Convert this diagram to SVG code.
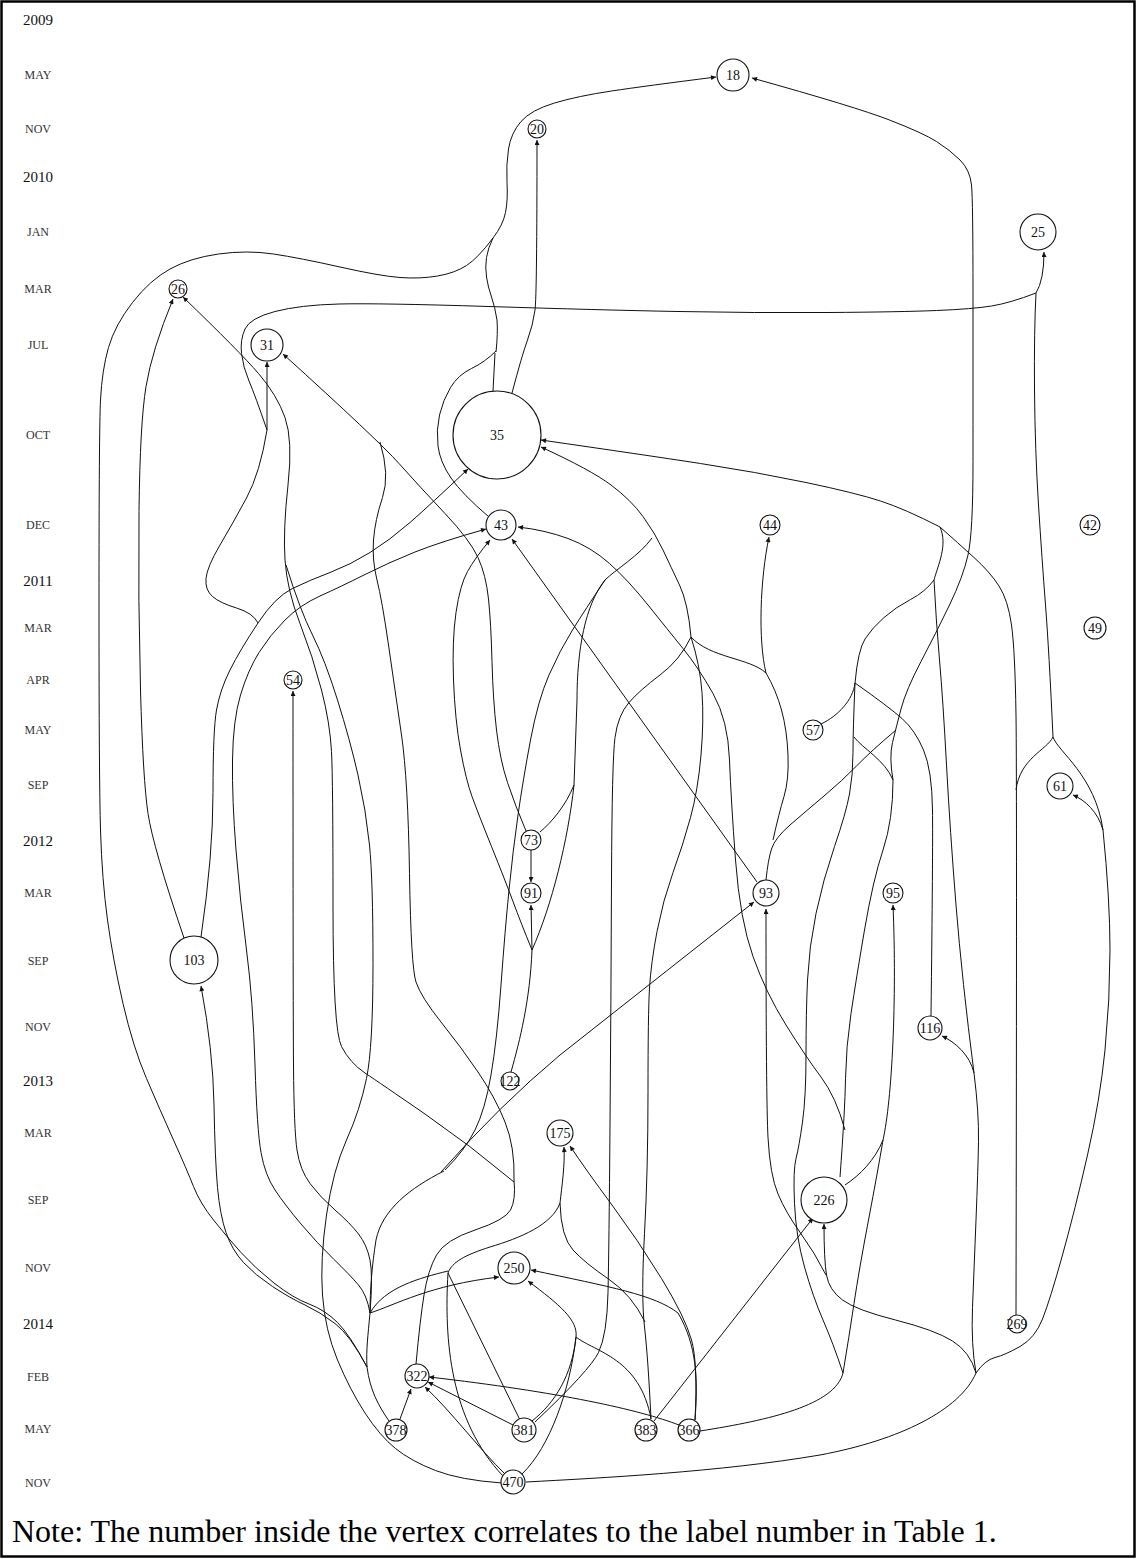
<svg xmlns="http://www.w3.org/2000/svg" width="1136" height="1559" viewBox="0 0 1136 1559">
<style>
.e{fill:none;stroke:#111;stroke-width:1}
.a{marker-end:url(#ah)}
.n circle{fill:#fff;stroke:#111;stroke-width:1.1}
.n text{font-family:"Liberation Serif",serif;font-size:14px;text-anchor:middle;fill:#111}
.yr{font-family:"Liberation Serif",serif;font-size:15px;text-anchor:middle;fill:#111}
.mo{font-family:"Liberation Serif",serif;font-size:12px;text-anchor:middle;fill:#333}
</style>
<defs>
<marker id="ah" viewBox="0 0 10 10" refX="10" refY="5" markerWidth="7" markerHeight="5" markerUnits="userSpaceOnUse" orient="auto"><path d="M0,0 L10,5 L0,10 z" fill="#111"/></marker>
</defs>
<rect x="1.5" y="1.5" width="1133" height="1555" fill="#fff" stroke="#000" stroke-width="2.5"/>
<g id="axis">
<text class="yr" x="38" y="25">2009</text>
<text class="mo" x="38" y="79">MAY</text>
<text class="mo" x="38" y="133">NOV</text>
<text class="yr" x="38" y="182">2010</text>
<text class="mo" x="38" y="236">JAN</text>
<text class="mo" x="38" y="293">MAR</text>
<text class="mo" x="38" y="349">JUL</text>
<text class="mo" x="38" y="439">OCT</text>
<text class="mo" x="38" y="529">DEC</text>
<text class="yr" x="38" y="586">2011</text>
<text class="mo" x="38" y="632">MAR</text>
<text class="mo" x="38" y="684">APR</text>
<text class="mo" x="38" y="734">MAY</text>
<text class="mo" x="38" y="789">SEP</text>
<text class="yr" x="38" y="846">2012</text>
<text class="mo" x="38" y="897">MAR</text>
<text class="mo" x="38" y="965">SEP</text>
<text class="mo" x="38" y="1031">NOV</text>
<text class="yr" x="38" y="1086">2013</text>
<text class="mo" x="38" y="1137">MAR</text>
<text class="mo" x="38" y="1204">SEP</text>
<text class="mo" x="38" y="1272">NOV</text>
<text class="yr" x="38" y="1329">2014</text>
<text class="mo" x="38" y="1381">FEB</text>
<text class="mo" x="38" y="1433">MAY</text>
<text class="mo" x="38" y="1487">NOV</text>
</g>
<g id="connectors">
<path class="e a" d="M493,238 Q503,225 505.5,212.5 Q508,200 507,182.5 Q506,165 508.5,149 Q511,133 521,121.5 Q531,110 554.5,103 Q578,96 611.5,91 Q645,86 716,77"/>
<path class="e" d="M493,238 Q478,258 466.5,265.5 Q455,273 437.5,276 Q420,279 400,277.5 Q380,276 340,267 Q300,258 273.5,254 Q247,250 218.5,254 Q190,258 170,269 Q150,280 132.5,302.5 Q115,325 108.5,347.5 Q102,370 100.5,400 Q99,430 99,605 Q99,780 100.5,830 Q102,880 107.5,920 Q113,960 123,1003.5 Q133,1047 146.5,1078.5 Q160,1110 173.5,1140 Q187,1170 193.5,1186.5 Q200,1203 213.5,1220 Q227,1237 241,1252.5 Q255,1268 274,1283 Q293,1298 309,1304 Q325,1310 337.5,1322.5 Q350,1335 367,1367"/>
<path class="e" d="M496,352 Q498,333 497,320 Q495,307 491.5,297 Q488,287 486.5,277 Q485,267 486.5,257.5 Q488,248 493,238"/>
<path class="e" d="M493,391 L495,353"/>
<path class="e" d="M489,517 Q462,494 451,478 Q440,462 438,446 Q436,430 439.5,415 Q443,400 450.5,387.5 Q458,375 471.5,368.5 Q485,362 496,351"/>
<path class="e a" d="M512,393 Q522,355 527.5,340 Q533,325 535,310 Q537,295 537,140"/>
<path class="e a" d="M1036,293 Q1044,280 1044,252"/>
<path class="e" d="M1036,293 Q1010,303 991.5,306 Q973,309 936.5,310.5 Q900,312 828,312.5 Q756,313 678,311.5 Q600,310 489,306.5 Q378,303 339,304 Q300,305 275,311.5 Q250,318 245,329 Q240,340 241.5,353.5 Q243,367 249,381 Q255,395 267,430"/>
<path class="e a" d="M267,430 L267,362"/>
<path class="e" d="M1036,293 Q1034,330 1034.5,390 Q1035,450 1038.5,505 Q1042,560 1045.5,605 Q1049,650 1053,737"/>
<path class="e" d="M1053,737 C1047,750 1020,758 1016,790"/>
<path class="e" d="M1053,737 C1058,752 1095,775 1103,830"/>
<path class="e a" d="M1103,830 C1098,812 1085,800 1073,795"/>
<path class="e" d="M1103,830 Q1110,900 1110,950 Q1110,1000 1105,1050 Q1100,1100 1087.5,1155 Q1075,1210 1062.5,1255 Q1050,1300 1042.5,1319 Q1035,1338 1020,1346.5 Q1005,1355 995,1357.5 Q985,1360 976,1373"/>
<path class="e" d="M976,1373 Q971,1345 972.5,1307.5 Q974,1270 976,1220 Q978,1170 978.5,1141.5 Q979,1113 974,1073"/>
<path class="e a" d="M974,1073 C970,1055 955,1042 942,1036"/>
<path class="e" d="M974,1073 Q962,980 956,905 Q950,830 946.5,765 Q943,700 939.5,660 Q936,620 934,580"/>
<path class="e" d="M934,580 C938,565 948,545 940,527"/>
<path class="e a" d="M940,527 Q905,509 880.5,501 Q856,493 806,482.5 Q756,472 700.5,463.5 Q645,455 541,440"/>
<path class="e" d="M940,527 Q958,543 974,557.5 Q990,572 999,586 Q1008,600 1011.5,625 Q1015,650 1016,715 Q1017,780 1016,1315"/>
<path class="e" d="M934,580 Q925,592 910.5,599.5 Q896,607 884,617.5 Q872,628 865,639 Q858,650 855,683"/>
<path class="e" d="M821,724 C838,716 853,700 855,683"/>
<path class="e" d="M855,683 Q889,707 902,718.5 Q915,730 923.5,750 Q932,770 932.5,810 Q933,850 931,1016"/>
<path class="e" d="M855,683 Q853,730 853,752.5 Q853,775 849.5,794 Q846,813 834.5,846.5 Q823,880 816,913.5 Q809,947 807.5,980 Q806,1013 806,1055 Q806,1097 802.5,1122 Q799,1147 796,1158.5 Q793,1170 794.5,1203.5 Q796,1237 804.5,1267 Q813,1297 823,1320 Q833,1343 843,1373"/>
<path class="e" d="M854,737 C862,748 885,760 893,780"/>
<path class="e a" d="M893,780 Q889,757 892.5,742.5 Q896,728 901,709 Q906,690 921,661.5 Q936,633 949.5,605 Q963,577 968,555 Q973,533 973,461.5 Q973,390 973,295 Q973,200 971.5,185 Q970,170 960,160 Q950,150 936.5,141.5 Q923,133 889.5,120 Q856,107 752,78"/>
<path class="e" d="M896,730 Q870,752 856.5,766 Q843,780 824,796 Q805,812 790,825 Q775,838 771.5,849 Q768,860 766,880"/>
<path class="e" d="M773,840 Q779,813 784,796.5 Q789,780 788,755 Q787,730 781.5,710 Q776,690 766,673"/>
<path class="e a" d="M766,673 C758,640 760,580 769,537"/>
<path class="e" d="M766,673 C750,658 710,658 691,637"/>
<path class="e a" d="M691,637 Q688,603 679.5,585 Q671,567 663,550 Q655,533 643,516.5 Q631,500 611,485 Q591,470 541,447"/>
<path class="e" d="M691,637 Q700,665 702,692.5 Q704,720 701,755 Q698,790 690.5,817.5 Q683,845 673,872.5 Q663,900 657,931.5 Q651,963 649.5,988 Q648,1013 648,1091.5 Q648,1170 644.5,1233.5 Q641,1297 644.5,1327 Q648,1357 651,1419"/>
<path class="e" d="M691,637 Q680,660 660,675 Q640,690 629,702.5 Q618,715 615,737.5 Q612,760 611.5,880 Q611,1000 610,1125 Q609,1250 608,1292.5 Q607,1335 598.5,1352.5 Q590,1370 535,1422"/>
<path class="e" d="M645,1322 Q632,1295 608.5,1279 Q585,1263 573,1250 Q561,1237 560,1203"/>
<path class="e a" d="M560,1203 C562,1185 565,1165 564,1147"/>
<path class="e" d="M560,1203 C552,1225 520,1238 490,1247 C465,1255 452,1262 448,1273"/>
<path class="e a" d="M695,1420 Q698,1363 691.5,1340 Q685,1317 661.5,1278.5 Q638,1240 612,1205 Q586,1170 570,1146"/>
<path class="e" d="M700,1431 C770,1420 835,1405 843,1373"/>
<path class="e" d="M843,1373 Q849,1337 854,1303.5 Q859,1270 868.5,1220 Q878,1170 883,1140"/>
<path class="e a" d="M883,1140 C892,1100 897,1000 893,905"/>
<path class="e" d="M883,1140 C875,1160 860,1175 845,1185"/>
<path class="e" d="M893,780 Q893,820 883,850 Q873,880 864.5,930 Q856,980 851,1013.5 Q846,1047 845.5,1078.5 Q845,1110 840,1177"/>
<path class="e a" d="M845,1130 Q836,1097 821,1077 Q806,1057 786,1025 Q766,993 753,956.5 Q740,920 735.5,860 Q731,800 729.5,760 Q728,720 713,693.5 Q698,667 683,648.5 Q668,630 648,605 Q628,580 609.5,563.5 Q591,547 568,538.5 Q545,530 518,527"/>
<path class="e a" d="M976,1373 Q970,1352 952.5,1341 Q935,1330 895.5,1320 Q856,1310 842.5,1300 Q829,1290 826.5,1275 Q824,1260 824,1224"/>
<path class="e a" d="M826,1275 Q815,1253 800.5,1233 Q786,1213 778,1194 Q770,1175 768,1137.5 Q766,1100 766,909"/>
<path class="e" d="M976,1373 C960,1410 900,1440 820,1455 C720,1472 600,1478 526,1482"/>
<path class="e a" d="M441,1172 Q500,1105 560,1055 L754,902"/>
<path class="e" d="M652,538 C640,555 615,570 605,580"/>
<path class="e" d="M605,580 C585,605 577,650 577,700 L574,785"/>
<path class="e" d="M574,785 C566,805 552,822 540,832"/>
<path class="e" d="M574,785 C568,840 552,905 532,950"/>
<path class="e" d="M605,580 Q585,610 572.5,630 Q560,650 549,675 Q538,700 530.5,740 Q523,780 518,815 Q513,850 509,890 Q505,930 501,985 Q497,1040 491,1075 Q485,1110 475,1130 Q465,1150 445,1170"/>
<path class="e a" d="M532,950 L531,905"/>
<path class="e" d="M511,1072 C520,1040 530,1000 532,950"/>
<path class="e a" d="M532,950 Q521,923 513,901.5 Q505,880 491.5,846.5 Q478,813 472,796.5 Q466,780 460.5,750 Q455,720 453.5,680 Q452,640 456,612.5 Q460,585 467.5,571.5 Q475,558 490,540"/>
<path class="e a" d="M531,850 L531,882"/>
<path class="e a" d="M757,882 L512,539"/>
<path class="e a" d="M526,831 Q515,805 507.5,782.5 Q500,760 496.5,730 Q493,700 492,661.5 Q491,623 488.5,599 Q486,575 478,557.5 Q470,540 445,513.5 Q420,487 399,463.5 Q378,440 283,354"/>
<path class="e" d="M380,442 Q390,475 382.5,497.5 Q375,520 373.5,540 Q372,560 377,580 Q382,600 388.5,645 Q395,690 401.5,735 Q408,780 409.5,873.5 Q411,967 416,982 Q421,997 441,1022 Q461,1047 478,1072 Q495,1097 505,1122 Q515,1147 514,1180"/>
<path class="e a" d="M514,1182 Q470,1145 425,1114 Q380,1083 365,1073 Q350,1063 341.5,1046.5 Q333,1030 333,905 Q333,780 331.5,751.5 Q330,723 321.5,690 Q313,657 300,623.5 Q287,590 285,560 Q283,530 288,485 Q293,440 285,417.5 Q277,395 258.5,373.5 Q240,352 183,297"/>
<path class="e" d="M514,1180 Q516,1200 510.5,1210 Q505,1220 475,1230 Q445,1240 436.5,1255 Q428,1270 424,1295 Q420,1320 416,1364"/>
<path class="e a" d="M184,938 Q153,847 148,813.5 Q143,780 140.5,690 Q138,600 139,511.5 Q140,423 146,386.5 Q152,350 173,299"/>
<path class="e" d="M267,430 Q260,473 246.5,498 Q233,523 220,545 Q207,567 206,578.5 Q205,590 212.5,596.5 Q220,603 236.5,608 Q253,613 258,623"/>
<path class="e" d="M258,623 Q240,650 230,670 Q220,690 216.5,710 Q213,730 213,792.5 Q213,855 201,937"/>
<path class="e a" d="M258,623 Q275,597 292.5,588.5 Q310,580 330,572.5 Q350,565 370,552.5 Q390,540 410,522.5 Q430,505 468,469"/>
<path class="e a" d="M370,1313 Q367,1295 358.5,1285 Q350,1275 333.5,1259 Q317,1243 301,1224 Q285,1205 275,1190 Q265,1175 261,1152.5 Q257,1130 255,1065 Q253,1000 246.5,950 Q240,900 236,850 Q232,800 232.5,760 Q233,720 240.5,695 Q248,670 259,652.5 Q270,635 285,620 Q300,605 320,596 Q340,587 365,574.5 Q390,562 415,552 Q440,542 486,529"/>
<path class="e a" d="M370,1313 Q373,1275 370,1260 Q367,1245 358.5,1234 Q350,1223 335,1210 Q320,1197 310,1183.5 Q300,1170 297,1150 Q294,1130 293.5,1065 Q293,1000 293,691"/>
<path class="e a" d="M367,1367 Q350,1335 335,1323.5 Q320,1312 305,1305 Q290,1298 272.5,1286.5 Q255,1275 243.5,1262.5 Q232,1250 226,1232.5 Q220,1215 217.5,1187.5 Q215,1160 214,1105 Q213,1050 201,986"/>
<path class="e" d="M502,1483 Q460,1480 435.5,1470.5 Q411,1461 395.5,1448.5 Q380,1436 365,1413 Q350,1390 337.5,1360 Q325,1330 322.5,1295 Q320,1260 326.5,1215 Q333,1170 346.5,1140 Q360,1110 366.5,1078.5 Q373,1047 373,963.5 Q373,880 369.5,845 Q366,810 358,775 Q350,740 337.5,700 Q325,660 312.5,635 Q300,610 286,565"/>
<path class="e" d="M444,1171 C410,1188 382,1210 376,1240 C372,1265 370,1290 370,1313"/>
<path class="e" d="M370,1313 C368,1335 366,1350 367,1367 C370,1390 378,1405 389,1421"/>
<path class="e a" d="M370,1313 C395,1305 430,1285 499,1277"/>
<path class="e" d="M448,1271 C420,1278 385,1287 370,1313"/>
<path class="e" d="M448,1273 L520,1420"/>
<path class="e" d="M448,1273 C444,1340 450,1420 503,1476"/>
<path class="e a" d="M576,1337 C578,1320 560,1305 528,1281"/>
<path class="e" d="M532,1421 C555,1403 572,1375 576,1337"/>
<path class="e" d="M522,1474 C550,1447 570,1390 576,1337"/>
<path class="e" d="M576,1337 C595,1352 640,1358 651,1419"/>
<path class="e a" d="M695,1420 C698,1380 697,1345 678,1313 C655,1295 611,1287 531,1270"/>
<path class="e a" d="M679,1425 C640,1410 560,1392 429,1377"/>
<path class="e a" d="M513,1425 L428,1382"/>
<path class="e a" d="M505,1474 C480,1450 450,1410 425,1387"/>
<path class="e a" d="M400,1419 L411,1389"/>
<path class="e a" d="M654,1421 L813,1218"/>
</g>
<g id="n18" class="n"><circle cx="733" cy="75" r="16"/><text x="733" y="80">18</text></g>
<g id="n20" class="n"><circle cx="537" cy="129" r="9"/><text x="537" y="134">20</text></g>
<g id="n25" class="n"><circle cx="1038" cy="232" r="18"/><text x="1038" y="237">25</text></g>
<g id="n26" class="n"><circle cx="178" cy="289" r="9"/><text x="178" y="294">26</text></g>
<g id="n31" class="n"><circle cx="267" cy="345" r="16"/><text x="267" y="350">31</text></g>
<g id="n35" class="n"><circle cx="497" cy="435" r="44"/><text x="497" y="440">35</text></g>
<g id="n43" class="n"><circle cx="501" cy="525" r="15"/><text x="501" y="530">43</text></g>
<g id="n44" class="n"><circle cx="770" cy="525" r="10"/><text x="770" y="530">44</text></g>
<g id="n42" class="n"><circle cx="1090" cy="525" r="10"/><text x="1090" y="530">42</text></g>
<g id="n49" class="n"><circle cx="1095" cy="628" r="11"/><text x="1095" y="633">49</text></g>
<g id="n54" class="n"><circle cx="293" cy="680" r="9"/><text x="293" y="685">54</text></g>
<g id="n57" class="n"><circle cx="813" cy="730" r="10"/><text x="813" y="735">57</text></g>
<g id="n61" class="n"><circle cx="1060" cy="786" r="13"/><text x="1060" y="791">61</text></g>
<g id="n73" class="n"><circle cx="531" cy="840" r="10"/><text x="531" y="845">73</text></g>
<g id="n91" class="n"><circle cx="531" cy="893" r="10"/><text x="531" y="898">91</text></g>
<g id="n93" class="n"><circle cx="766" cy="893" r="13"/><text x="766" y="898">93</text></g>
<g id="n95" class="n"><circle cx="893" cy="893" r="10"/><text x="893" y="898">95</text></g>
<g id="n103" class="n"><circle cx="194" cy="960" r="24"/><text x="194" y="965">103</text></g>
<g id="n116" class="n"><circle cx="930" cy="1028" r="12"/><text x="930" y="1033">116</text></g>
<g id="n122" class="n"><circle cx="510" cy="1081" r="9"/><text x="510" y="1086">122</text></g>
<g id="n175" class="n"><circle cx="560" cy="1133" r="13"/><text x="560" y="1138">175</text></g>
<g id="n226" class="n"><circle cx="824" cy="1200" r="23"/><text x="824" y="1205">226</text></g>
<g id="n250" class="n"><circle cx="514" cy="1268" r="16"/><text x="514" y="1273">250</text></g>
<g id="n269" class="n"><circle cx="1017" cy="1324" r="9"/><text x="1017" y="1329">269</text></g>
<g id="n322" class="n"><circle cx="417" cy="1376" r="12"/><text x="417" y="1381">322</text></g>
<g id="n378" class="n"><circle cx="396" cy="1430" r="11"/><text x="396" y="1435">378</text></g>
<g id="n381" class="n"><circle cx="524" cy="1430" r="12"/><text x="524" y="1435">381</text></g>
<g id="n383" class="n"><circle cx="646" cy="1430" r="11"/><text x="646" y="1435">383</text></g>
<g id="n366" class="n"><circle cx="689" cy="1430" r="11"/><text x="689" y="1435">366</text></g>
<g id="n470" class="n"><circle cx="513" cy="1482" r="12"/><text x="513" y="1487">470</text></g>
<text x="12" y="1542" font-family="'Liberation Serif',serif" font-size="32" fill="#000">Note: The number inside the vertex correlates to the label number in Table 1.</text>
</svg>
